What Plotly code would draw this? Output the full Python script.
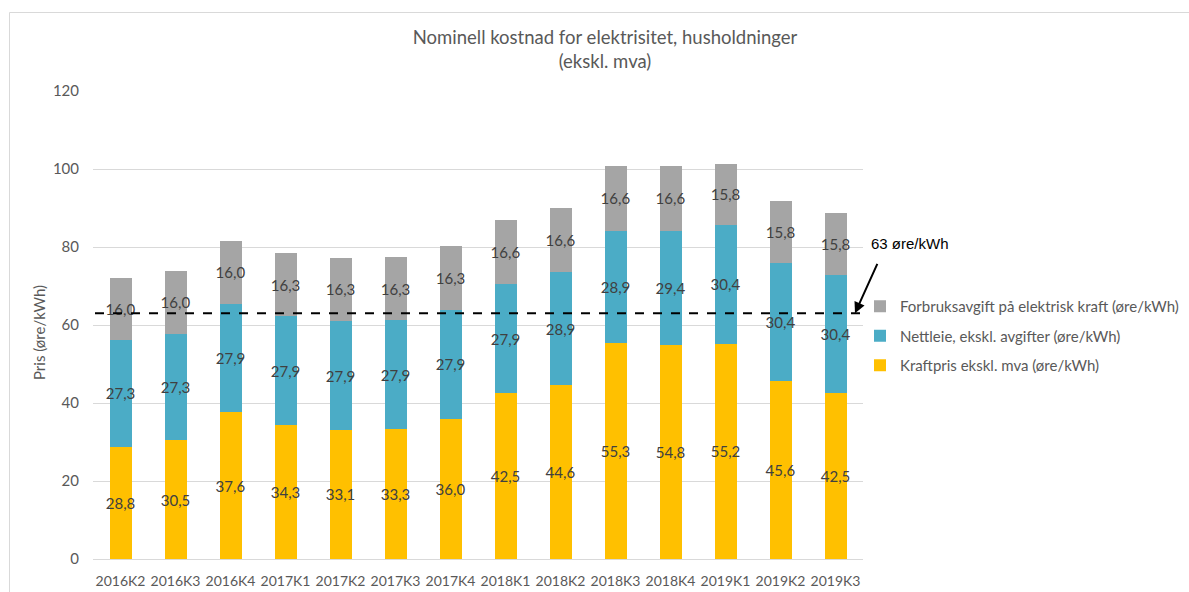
import plotly.graph_objects as go

# Quarterly nominal electricity cost for households (øre/kWh, excl. VAT)
quarters = ["2016K2", "2016K3", "2016K4", "2017K1", "2017K2", "2017K3", "2017K4",
            "2018K1", "2018K2", "2018K3", "2018K4", "2019K1", "2019K2", "2019K3"]
kraftpris = [28.8, 30.5, 37.6, 34.3, 33.1, 33.3, 36.0, 42.5, 44.6, 55.3, 54.8, 55.2, 45.6, 42.5]
nettleie = [27.3, 27.3, 27.9, 27.9, 27.9, 27.9, 27.9, 27.9, 28.9, 28.9, 29.4, 30.4, 30.4, 30.4]
forbruksavgift = [16.0, 16.0, 16.0, 16.3, 16.3, 16.3, 16.3, 16.6, 16.6, 16.6, 16.6, 15.8, 15.8, 15.8]
reference_level = 63
reference_label = "63 øre/kWh"

# (legend name, values, colour, legend rank)
series = [
    ("Kraftpris ekskl. mva (øre/kWh)", kraftpris, "#FFC000", 3),
    ("Nettleie, ekskl. avgifter (øre/kWh)", nettleie, "#4BACC6", 2),
    ("Forbruksavgift på elektrisk kraft (øre/kWh)", forbruksavgift, "#A5A5A5", 1),
]

FONT = "Lato"
GREY_TEXT = "#595959"

# plot-area geometry in pixels
W, H = 1189, 592
L, R, T, B = 93, 326, 91, 33
PW = W - L - R
PH = H - T - B


def px_x(p):
    return (p - L) / PW


def px_y(p):
    return (H - B - p) / PH


def fmt(v):
    return f"{v:.1f}".replace(".", ",")


fig = go.Figure()
for i, (name, vals, color, rank) in enumerate(series):
    fig.add_trace(go.Bar(
        x=quarters, y=vals, name=name, legendgroup=str(i), legendrank=rank,
        marker=dict(color=color, line=dict(width=0)),
        text=[fmt(v) for v in vals],
        textposition="inside", insidetextanchor="middle", textangle=0,
        textfont=dict(family=FONT, size=15, color="#404040"),
        hoverinfo="skip",
    ))

# Dashed reference level across all quarters
fig.add_shape(type="line", xref="paper", yref="y",
              x0=px_x(95), x1=px_x(867), y0=reference_level, y1=reference_level,
              line=dict(color="black", width=2, dash="dash"))

fig.add_annotation(
    x=px_x(855), y=reference_level, xref="paper", yref="y",
    ax=23, ay=-51,
    showarrow=True, arrowhead=2, arrowsize=1.1, arrowwidth=2, arrowcolor="black",
    text="",
)
fig.add_annotation(
    x=px_x(869), y=px_y(244), xref="paper", yref="paper",
    text=reference_label, showarrow=False, xanchor="left", yanchor="middle",
    font=dict(family="Liberation Sans", size=15, color="black"),
)

# Y-axis title
fig.add_annotation(
    x=px_x(39), y=px_y(333), xref="paper", yref="paper",
    text="Pris (øre/kWh)", textangle=-90, showarrow=False,
    xanchor="center", yanchor="middle",
    font=dict(family=FONT, size=15, color=GREY_TEXT),
)

# Chart-area border (left and top edges)
fig.add_shape(type="line", xref="paper", yref="paper",
              x0=px_x(9.5), x1=px_x(9.5), y0=px_y(600), y1=px_y(12.5),
              line=dict(color="#D9D9D9", width=1))
fig.add_shape(type="line", xref="paper", yref="paper",
              x0=px_x(9.5), x1=px_x(1200), y0=px_y(12.5), y1=px_y(12.5),
              line=dict(color="#D9D9D9", width=1))

fig.update_layout(
    width=W, height=H,
    margin=dict(l=L, r=R, t=T, b=B, autoexpand=False),
    paper_bgcolor="white", plot_bgcolor="white",
    barmode="stack", bargap=0.6,
    uniformtext=dict(minsize=15, mode="show"),
    font=dict(family=FONT, color=GREY_TEXT),
    title=dict(
        text="Nominell kostnad for elektrisitet, husholdninger<br>(ekskl. mva)",
        x=605 / W, xref="container", xanchor="center",
        y=0.926, yref="container", yanchor="top",
        font=dict(family=FONT, size=18.5, color=GREY_TEXT),
    ),
    legend=dict(
        xref="container", yref="container",
        x=860 / W, y=1 - 290 / H, xanchor="left", yanchor="top",
        traceorder="grouped", tracegroupgap=7,
        font=dict(family=FONT, size=15, color=GREY_TEXT),
        itemwidth=30, bgcolor="rgba(0,0,0,0)",
    ),
    xaxis=dict(
        type="category", range=[-0.5, 13.5], tickangle=0,
        showgrid=False, showline=True, linecolor="#D9D9D9", linewidth=1,
        ticks="outside", ticklen=9, tickcolor="rgba(0,0,0,0)",
        tickfont=dict(family=FONT, size=14, color=GREY_TEXT),
    ),
    yaxis=dict(
        range=[0, 120], tickvals=[0, 20, 40, 60, 80, 100, 120],
        showgrid=True, gridcolor="#D9D9D9", gridwidth=1,
        zeroline=False, showline=False,
        ticks="outside", ticklen=10, tickcolor="rgba(0,0,0,0)",
        tickfont=dict(family=FONT, size=15, color=GREY_TEXT),
    ),
)

fig.write_html("out.html")
